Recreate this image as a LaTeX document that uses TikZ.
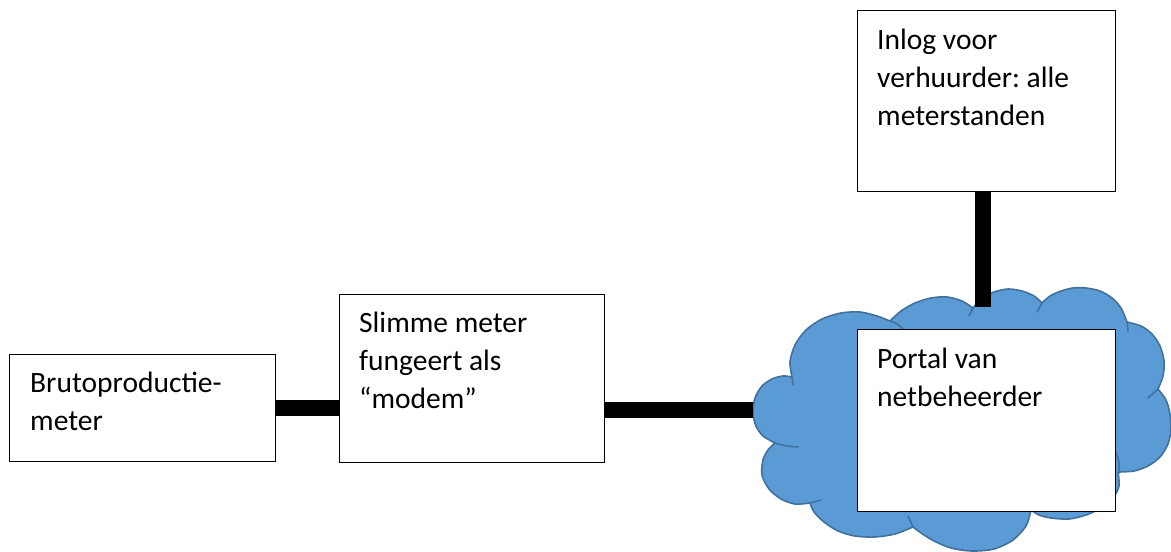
\documentclass[tikz,border=0pt]{standalone}
\usepackage{fontspec}
\setmainfont{Carlito}
\usetikzlibrary{calc}
\definecolor{cloudfill}{HTML}{5B9BD5}
\definecolor{cloudedge}{HTML}{41719C}
\frenchspacing
\begin{document}
\begin{tikzpicture}[x=1pt,y=-1pt,
  box/.style={draw=black, line width=1.2pt, fill=white, inner sep=0pt, anchor=north west},
  txt/.style={anchor=base west, align=left, inner sep=0pt, font=\fontsize{29.5}{38}\selectfont},
  bar/.style={line width=16pt, black},
  cloudshape/.style={fill=cloudfill, draw=cloudedge, line width=1.6pt, line join=round},
  stub/.style={draw=cloudedge, line width=1.6pt, line cap=round},
]
\useasboundingbox (0,0) rectangle (1171,552);

% cloud outline, one smooth arc per bump
\path[cloudshape]
  plot[smooth] coordinates {(792,377) (790,362) (795,345) (806,330) (822,319) (841,313) (860,312) (877,316) (890,321)}
  -- plot[smooth] coordinates {(890,321) (901,311) (915,303) (931,298) (947,297) (962,301) (973,308)}
  -- plot[smooth] coordinates {(973,308) (982,298) (994,292) (1008,289) (1022,291) (1034,296) (1042,303)}
  -- plot[smooth] coordinates {(1042,303) (1050,296) (1061,291) (1073,288) (1086,288) (1100,291) (1112,298) (1121,308) (1127,322)}
  -- plot[smooth] coordinates {(1127,322) (1141,326) (1152,334) (1160,346) (1164,361) (1163,376) (1158,389)}
  -- plot[smooth] coordinates {(1158,389) (1166,400) (1170,414) (1171,429) (1168,444) (1160,457) (1148,466) (1134,471) (1118,472)}
  -- plot[smooth] coordinates {(1118,472) (1119,486) (1113,498) (1101,508) (1086,515) (1069,519) (1051,518) (1039,515) (1031,510)}
  -- plot[smooth] coordinates {(1031,510) (1026,526) (1013,540) (994,549) (972,551) (951,548) (934,541) (921,533) (913,527)}
  -- plot[smooth] coordinates {(913,527) (895,534) (875,537) (855,536) (838,531) (824,522) (814,512) (810,503)}
  -- plot[smooth] coordinates {(810,503) (795,504) (781,499) (769,489) (762,475) (763,460) (768,450) (775,443)}
  -- plot[smooth] coordinates {(775,443) (763,436) (756,426) (753,413) (755,398) (762,386) (772,379) (783,376) (792,377)}
  -- cycle;

% inner ends of the bump arcs
\draw[stub] (792,377) -- (793,385);
\draw[stub] plot[smooth] coordinates {(890,321) (897,324) (903,329)};
\draw[stub] (973,308) -- (969,316);
\draw[stub] (1042,303) -- (1037,312);
\draw[stub] (1127,322) -- (1128,331);
\draw[stub] (1158,389) -- (1148,398);
\draw[stub] plot[smooth] coordinates {(1119,473) (1119,462) (1115,450)};
\draw[stub] (913,527) -- (908,516);
\draw[stub] (810,503) -- (821,500);
\draw[stub] plot[smooth] coordinates {(775,443) (787,446) (798,447)};

\coordinate (cloudL) at (753,410);
\coordinate (cloudT) at (983,307);

% boxes
\node[box, minimum width=266pt, minimum height=107pt] (b1) at (9,354) {};
\node[box, minimum width=265pt, minimum height=168pt] (b2) at (339,294) {};
\node[box, minimum width=258pt, minimum height=181pt] (b3) at (857,10) {};

% connectors
\draw[bar] (b1.east) -- (b1.east -| b2.west);
\draw[bar] (b2.east |- cloudL) -- (cloudL);
\draw[bar] (b3.south -| cloudT) -- (cloudT);

\node[box, minimum width=258pt, minimum height=182pt] (b4) at (857,329) {};

% labels (base anchor sits on the last line)
\node[txt] (t1) at ($(b1.north west)+(21,76)$) {Brutoproductie-\\meter};
\node[txt] (t2) at ($(b2.north west)+(20,114)$) {Slimme meter\\fungeert als\\“modem”};
\node[txt] (t3) at ($(b3.north west)+(20,115)$) {Inlog voor\\verhuurder: alle\\meterstanden};
\node[txt] (t4) at ($(b4.north west)+(20,77)$) {Portal van\\netbeheerder};
\end{tikzpicture}
\end{document}
